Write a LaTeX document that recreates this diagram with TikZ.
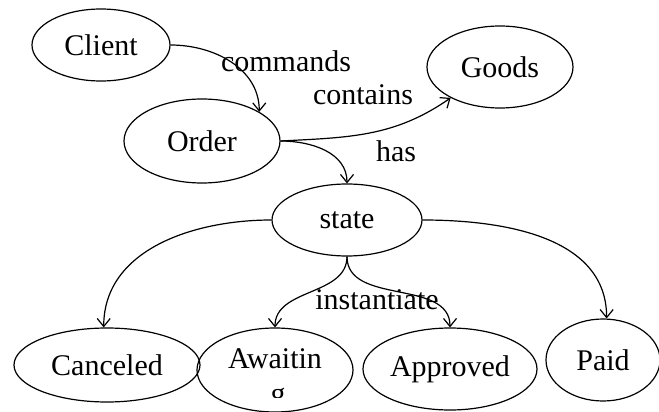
\documentclass[tikz,border=0pt]{standalone}
\usepackage{fontspec}
\setmainfont{Liberation Serif}
\usetikzlibrary{shapes.geometric,arrows.meta}
\begin{document}
\begin{tikzpicture}[x=1pt,y=-1pt,
  ell/.style={ellipse, draw, line width=1.2pt, inner sep=0pt, font=\fontsize{30}{34}\selectfont},
  lbl/.style={inner sep=0pt, font=\fontsize{30}{34}\selectfont},
  arr/.style={line width=1.2pt, -{Straight Barb[length=8pt,width=13pt,line width=1.2pt]}}]
\useasboundingbox (0,0) rectangle (659,412);
\node[ell, minimum width=138pt, minimum height=72pt] (client) at (101,45) {Client};
\node[ell, minimum width=156pt, minimum height=84pt] (order) at (202,141) {Order};
\node[ell, minimum width=146pt, minimum height=82pt] (goods) at (500,67) {Goods};
\node[ell, minimum width=150pt, minimum height=72pt] (state) at (347,220) {state};
\node[ell, minimum width=186pt, minimum height=74pt] (canceled) at (107,365) {Canceled};
\node[ell, minimum width=156pt, minimum height=84pt] (await) at (275,370) {};
\node[lbl, anchor=base] (awaittxt) at (275,368) {Awaitin};
\begin{scope}
\clip (240,380) rectangle (310,397);
\node[lbl, anchor=base] (awaitg) at (278,403) {g};
\end{scope}
\node[ell, minimum width=174pt, minimum height=82pt] (approved) at (450,369) {Approved};
\node[ell, minimum width=114pt, minimum height=82pt] (paid) at (603,360) {Paid};

\node[lbl, anchor=base] (lcommands) at (286,72) {commands};
\node[lbl, anchor=base] (lcontains) at (363,105) {contains};
\node[lbl, anchor=base] (lhas) at (396,161) {has};
\node[lbl, anchor=base] (linst) at (377,309) {instantiate};

\draw[arr] (client.east) to[out=0,in=90] (order.27);
\draw[arr] (order.east) to[out=3,in=-145] (goods.212);
\draw[arr] (order.east) to[out=0,in=90] (state.north);
\draw[arr] (state.west) to[out=180,in=90] (canceled.95);
\draw[arr] (state.south) to[out=-90,in=90] (await.north);
\draw[arr] (state.south) to[out=-90,in=90] (approved.north);
\draw[arr] (state.east) to[out=0,in=90] (paid.85);
\end{tikzpicture}
\end{document}
